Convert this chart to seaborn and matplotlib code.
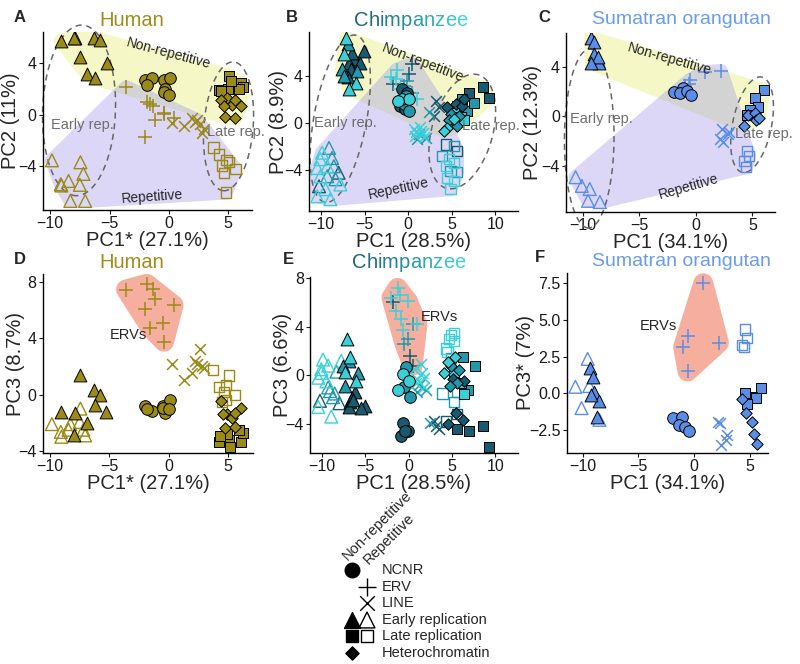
import numpy as np
import pandas as pd
import matplotlib
matplotlib.use("Agg")
import matplotlib.pyplot as plt
import seaborn as sns
from matplotlib.patches import Polygon
from matplotlib.ticker import FuncFormatter
from matplotlib.colors import to_rgb

# ----------------------------
# Values (PC1 / PC2 / PC3 per region class)
# ----------------------------

# Human
hum_ncnr_pc1 = [-2.0, -1.45, -1.85, -0.45, 0.1, -0.3, -0.45, 0.05]
hum_ncnr_pc2 = [2.7, 2.8, 2.3, 2.7, 2.8, 2.0, 1.75, 1.5]
hum_ncnr_pc3 = [-0.8, -1.15, -1.0, -0.8, -0.4, -1.3, -0.95, -1.05]
hum_erv_pc1 = [-3.6, -1.85, -1.35, -1.2, 0.4, -2.0, -0.45, -1.55, -0.4]
hum_erv_pc2 = [2.1, 0.95, 0.7, -0.45, -0.3, -1.75, 0.1, 0.85, 0.05]
hum_erv_pc3 = [7.45, 7.85, 7.5, 6.75, 6.35, 6.1, 5.1, 4.75, 3.75]
hum_line_pc1 = [0.3, 1.27, 1.97, 2.2, 2.4, 2.6, 2.82, 2.95]
hum_line_pc2 = [-0.65, -0.9, -0.3, -0.55, -0.45, -0.75, -1.45, -1.1]
hum_line_pc3 = [2.15, 1.0, 1.5, 2.4, 2.2, 3.2, 2.0, 1.85]
hum_early_nr_pc1 = [-9.1, -7.9, -6.3, -5.8, -7.45, -5.25, -6.9, -6.25, -7.95]
hum_early_nr_pc2 = [5.7, 5.95, 5.95, 5.8, 4.5, 4.0, 3.15, 2.8, 5.9]
hum_early_nr_pc3 = [-1.25, -1.3, 0.35, 0.0, 1.35, -1.25, -2.05, -0.75, -2.9]
hum_early_r_pc1 = [-9.85, -7.45, -8.45, -7.2, -7.5, -9.05, -8.3, -7.05, -9.1]
hum_early_r_pc2 = [-3.55, -3.7, -5.15, -4.6, -5.45, -5.5, -6.7, -6.7, -5.4]
hum_early_r_pc3 = [-2.1, -1.0, -2.5, -2.5, -1.95, -3.0, -2.1, -2.9, -2.65]
hum_late_nr_pc1 = [5.05, 6.1, 6.25, 4.25, 5.9, 4.95, 5.2, 4.35]
hum_late_nr_pc2 = [3.0, 2.45, 2.1, 1.9, 2.0, 1.95, 2.6, 1.85]
hum_late_nr_pc3 = [-3.25, -3.35, -2.75, -3.35, -2.55, -2.8, -3.75, -2.95]
hum_late_r_pc1 = [3.75, 4.25, 4.85, 4.5, 5.05, 5.6, 4.65, 4.8]
hum_late_r_pc2 = [-2.55, -3.1, -3.55, -3.95, -3.7, -4.2, -4.55, -6.05]
hum_late_r_pc3 = [1.75, 0.55, 0.65, -0.55, 1.35, -0.05, 0.2, -0.4]
hum_het_pc1 = [4.9, 5.3, 6.05, 4.4, 5.6, 4.75, 5.6, 4.6]
hum_het_pc2 = [1.25, 0.75, 0.65, 1.1, 1.1, -0.2, -0.3, 0.65]
hum_het_pc3 = [-1.4, -1.7, -0.95, -0.45, -1.3, -2.4, -2.3, -1.4]

# Chimpanzee (shade: 0 dark, 1 mid, 2 light)
chi_ncnr_pc1 = [-0.7, -0.15, -0.7, -0.5, 0.05, -0.9, -0.3, -1.2, -0.4, 0.1]
chi_ncnr_pc2 = [2.85, 2.5, 2.0, 1.55, 2.0, 1.4, 2.3, 1.8, 1.2, 1.0]
chi_ncnr_pc3 = [-3.9, -4.6, 0.1, -1.0, -0.5, -5.0, 0.7, -1.2, -4.6, -1.8]
chi_ncnr_shade = [0, 0, 2, 1, 2, 0, 1, 2, 0, 1]
chi_erv_pc1 = [-2.0, -1.45, 0.45, -0.1, -0.9, -0.1, 1.0, -0.7, 0.1, -0.5, -1.05, 0.45, -1.8, -1.3]
chi_erv_pc2 = [3.85, 3.7, 4.95, 3.55, 2.85, 2.7, 2.0, 2.15, 4.1, 3.1, 1.7, 2.55, 3.3, 4.5]
chi_erv_pc3 = [6.4, 5.3, 0.8, 3.0, 4.6, 6.1, 4.2, 3.7, 1.6, 2.6, 6.6, 4.2, 6.0, 7.2]
chi_erv_shade = [2, 2, 0, 1, 2, 2, 2, 2, 0, 1, 2, 1, 0, 2]
chi_line_pc1 = [0.6, 0.9, 1.2, 1.5, 1.8, 1.0, 1.4, 0.8, 1.7, 2.0, 3.15, 2.95, 3.5, 2.4]
chi_line_pc2 = [-0.5, -0.8, -1.0, -0.7, -1.2, -1.4, -0.4, -1.1, -0.9, -1.3, 1.85, 0.6, 1.3, 0.9]
chi_line_pc3 = [0.5, -0.3, -0.8, 0.2, -1.0, -1.4, 0.9, -0.6, -0.2, -1.2, -4.2, -3.8, -4.4, -3.9]
chi_line_shade = [2, 2, 1, 2, 2, 1, 2, 2, 2, 1, 0, 0, 0, 1]
chi_early_nr_pc1 = [-7.1, -6.9, -7.4, -5.1, -6.25, -6.8, -5.5, -7.6, -6.6, -5.85, -6.9, -6.05, -6.8, -7.4, -6.45]
chi_early_nr_pc2 = [7.2, 6.65, 5.8, 6.1, 5.4, 5.1, 5.1, 4.55, 4.55, 4.4, 3.85, 3.4, 2.9, 4.0, 5.95]
chi_early_nr_pc3 = [3.0, 1.2, 0.3, -2.5, -1.4, -2.2, -2.7, 0.8, -1.9, 0.2, -2.6, -0.5, 1.5, -0.9, -2.0]
chi_early_nr_shade = [2, 1, 2, 0, 0, 0, 0, 1, 0, 1, 0, 2, 2, 1, 0]
chi_early_r_pc1 = [-9.1, -9.9, -10.1, -8.75, -9.3, -10.45, -8.55, -8.0, -10.1, -9.3, -8.35, -10.25, -7.8, -9.5, -10.45, -8.95]
chi_early_r_pc2 = [-2.15, -2.55, -3.1, -3.0, -3.7, -3.85, -3.7, -4.25, -4.55, -4.55, -4.8, -5.4, -5.25, -5.65, -6.25, -6.5]
chi_early_r_pc3 = [-1.3, 1.3, 0.5, -1.8, 0.8, -0.2, -1.5, -2.3, 0.2, -1.0, 0.3, -2.1, 1.2, -0.5, -2.6, -3.4]
chi_early_r_shade = [1, 2, 2, 1, 2, 2, 1, 0, 2, 1, 1, 0, 2, 2, 2, 2]
chi_late_nr_pc1 = [7.0, 8.6, 9.25, 6.2, 5.25, 6.0, 6.8, 5.6, 7.6, 6.4]
chi_late_nr_pc2 = [2.55, 3.0, 2.1, 2.0, 0.85, 0.45, 1.0, 1.4, 1.7, 0.2]
chi_late_nr_pc3 = [-4.6, -4.2, -5.9, 1.5, 0.3, -0.6, -1.2, -4.4, 0.8, -1.5]
chi_late_nr_shade = [0, 0, 0, 1, 2, 2, 1, 0, 1, 2]
chi_late_r_pc1 = [4.3, 5.25, 5.6, 3.9, 4.65, 5.25, 4.3, 4.85, 5.6, 4.45, 5.25, 4.85]
chi_late_r_pc2 = [-1.85, -2.0, -2.4, -2.85, -3.1, -3.4, -3.7, -4.1, -4.2, -4.7, -4.95, -5.65]
chi_late_r_pc3 = [-3.8, -2.2, -3.2, -1.5, 3.0, 3.5, 2.2, 1.4, -1.4, 1.9, 2.8, 3.3]
chi_late_r_shade = [0, 1, 0, 1, 2, 2, 2, 1, 1, 2, 2, 2]
chi_het_pc1 = [4.5, 5.45, 6.2, 4.85, 5.8, 5.05, 4.5, 5.6, 4.1, 6.4, 5.3, 4.7]
chi_het_pc2 = [1.3, 1.55, 1.4, 0.7, 0.6, 0.0, -0.45, -0.3, -0.7, 2.0, 0.3, 0.2]
chi_het_pc3 = [-4.0, -3.1, -3.7, 0.8, 0.4, -0.3, 1.1, -0.6, 0.2, -0.5, 1.5, -0.9]
chi_het_shade = [0, 0, 0, 1, 1, 0, 2, 1, 2, 0, 2, 1]

# Sumatran orangutan
ora_ncnr_pc1 = [-1.9, -1.1, -1.4, -0.8, -0.45]
ora_ncnr_pc2 = [1.95, 2.25, 1.85, 2.05, 1.7]
ora_ncnr_pc3 = [-1.7, -1.6, -2.15, -2.3, -2.55]
ora_erv_pc1 = [0.8, -0.55, -1.0, 2.2, -0.6]
ora_erv_pc2 = [3.55, 2.9, 2.4, 3.65, 2.6]
ora_erv_pc3 = [7.5, 3.9, 3.15, 3.45, 1.5]
ora_line_pc1 = [2.1, 2.3, 2.95, 2.8, 2.4]
ora_line_pc2 = [-1.8, -1.0, -1.3, -1.45, -2.1]
ora_line_pc3 = [-1.95, -2.0, -2.85, -3.15, -3.5]
ora_early_nr_pc1 = [-9.3, -9.05, -9.0, -8.55, -8.7, -9.25]
ora_early_nr_pc2 = [6.3, 6.0, 5.05, 4.3, 4.8, 4.25]
ora_early_nr_pc3 = [1.7, 1.1, 0.1, -0.55, -1.6, -0.1]
ora_early_r_pc1 = [-10.65, -10.1, -9.55, -9.4, -8.5]
ora_early_r_pc2 = [-4.9, -5.6, -6.8, -5.85, -6.9]
ora_early_r_pc3 = [0.45, -1.0, 2.35, 0.5, -1.8]
ora_late_nr_pc1 = [6.0, 5.2, 5.5, 4.75, 4.5]
ora_late_nr_pc2 = [2.1, 1.45, 0.75, 0.5, 0.1]
ora_late_nr_pc3 = [0.4, -0.25, -0.3, -0.7, 0.0]
ora_late_r_pc1 = [4.55, 4.7, 4.3, 4.45]
ora_late_r_pc2 = [-2.8, -3.2, -3.6, -4.1]
ora_late_r_pc3 = [4.35, 3.75, 3.3, 3.15]
ora_het_pc1 = [4.3, 4.6, 5.2, 5.35, 5.6]
ora_het_pc2 = [-0.75, 0.1, 0.25, -0.3, -0.1]
ora_het_pc3 = [-0.4, -1.35, -1.95, -2.75, -3.45]

legend_labels = ["NCNR", "ERV", "LINE", "Early replication", "Late replication", "Heterochromatin"]

# ----------------------------
# Styles
# ----------------------------

W, H = 800, 664
MARKERS = {"ncnr": "o", "erv": "+", "line": "x", "early_nr": "^", "early_r": "^",
           "late_nr": "s", "late_r": "s", "het": "D"}
SIZES = {"o": 70, "+": 90, "x": 60, "^": 85, "s": 55, "D": 34}
FILLED = {"ncnr", "early_nr", "late_nr", "het"}
OPEN = {"early_r", "late_r"}
NONREP = ["ncnr", "early_nr", "late_nr", "het"]
REP = ["erv", "line", "early_r", "late_r"]
DRAW_ORDER = ["early_r", "late_r", "erv", "line", "ncnr", "early_nr", "late_nr", "het"]

PALETTES = {
    "human": ["#9A8A17"],
    "chimp": ["#185A70", "#2298AC", "#3BD0D8"],
    "orang": ["#5A8EE6"],
}
YELLOW, LAVENDER, GRAY, SALMON = "#F5F8C6", "#DCD7F7", "#D3D3D3", "#F6AE9F"


def region_df(region, pc1, pc2, pc3, shade=None):
    if shade is None:
        shade = [0] * len(pc1)
    return pd.DataFrame({"region": region, "pc1": pc1, "pc2": pc2, "pc3": pc3, "shade": shade})


human = pd.concat([
    region_df("ncnr", hum_ncnr_pc1, hum_ncnr_pc2, hum_ncnr_pc3),
    region_df("erv", hum_erv_pc1, hum_erv_pc2, hum_erv_pc3),
    region_df("line", hum_line_pc1, hum_line_pc2, hum_line_pc3),
    region_df("early_nr", hum_early_nr_pc1, hum_early_nr_pc2, hum_early_nr_pc3),
    region_df("early_r", hum_early_r_pc1, hum_early_r_pc2, hum_early_r_pc3),
    region_df("late_nr", hum_late_nr_pc1, hum_late_nr_pc2, hum_late_nr_pc3),
    region_df("late_r", hum_late_r_pc1, hum_late_r_pc2, hum_late_r_pc3),
    region_df("het", hum_het_pc1, hum_het_pc2, hum_het_pc3),
])
chimp = pd.concat([
    region_df("ncnr", chi_ncnr_pc1, chi_ncnr_pc2, chi_ncnr_pc3, chi_ncnr_shade),
    region_df("erv", chi_erv_pc1, chi_erv_pc2, chi_erv_pc3, chi_erv_shade),
    region_df("line", chi_line_pc1, chi_line_pc2, chi_line_pc3, chi_line_shade),
    region_df("early_nr", chi_early_nr_pc1, chi_early_nr_pc2, chi_early_nr_pc3, chi_early_nr_shade),
    region_df("early_r", chi_early_r_pc1, chi_early_r_pc2, chi_early_r_pc3, chi_early_r_shade),
    region_df("late_nr", chi_late_nr_pc1, chi_late_nr_pc2, chi_late_nr_pc3, chi_late_nr_shade),
    region_df("late_r", chi_late_r_pc1, chi_late_r_pc2, chi_late_r_pc3, chi_late_r_shade),
    region_df("het", chi_het_pc1, chi_het_pc2, chi_het_pc3, chi_het_shade),
])
orang = pd.concat([
    region_df("ncnr", ora_ncnr_pc1, ora_ncnr_pc2, ora_ncnr_pc3),
    region_df("erv", ora_erv_pc1, ora_erv_pc2, ora_erv_pc3),
    region_df("line", ora_line_pc1, ora_line_pc2, ora_line_pc3),
    region_df("early_nr", ora_early_nr_pc1, ora_early_nr_pc2, ora_early_nr_pc3),
    region_df("early_r", ora_early_r_pc1, ora_early_r_pc2, ora_early_r_pc3),
    region_df("late_nr", ora_late_nr_pc1, ora_late_nr_pc2, ora_late_nr_pc3),
    region_df("late_r", ora_late_r_pc1, ora_late_r_pc2, ora_late_r_pc3),
    region_df("het", ora_het_pc1, ora_het_pc2, ora_het_pc3),
])
SPECIES = {"human": human, "chimp": chimp, "orang": orang}


# ----------------------------
# Geometry helpers (hulls / enclosing ellipses, in pixel space)
# ----------------------------

def convex_hull(points):
    pts = sorted(set(map(tuple, np.round(points, 4))))
    if len(pts) < 3:
        return np.array(pts)

    def cross(o, a, b):
        return (a[0] - o[0]) * (b[1] - o[1]) - (a[1] - o[1]) * (b[0] - o[0])

    lower, upper = [], []
    for p in pts:
        while len(lower) >= 2 and cross(lower[-2], lower[-1], p) <= 0:
            lower.pop()
        lower.append(p)
    for p in reversed(pts):
        while len(upper) >= 2 and cross(upper[-2], upper[-1], p) <= 0:
            upper.pop()
        upper.append(p)
    return np.array(lower[:-1] + upper[:-1])


def hull_xy(ax, x, y, pad_px):
    disp = ax.transData.transform(np.column_stack([x, y]))
    ang = np.linspace(0, 2 * np.pi, 24, endpoint=False)
    ring = np.column_stack([np.cos(ang), np.sin(ang)]) * pad_px
    cloud = (disp[:, None, :] + ring[None, :, :]).reshape(-1, 2)
    return ax.transData.inverted().transform(convex_hull(cloud))


def mvee(P, tol=1e-5):
    n, d = P.shape
    Q = np.vstack([P.T, np.ones(n)])
    u = np.full(n, 1.0 / n)
    err = 1.0
    while err > tol:
        X = Q @ np.diag(u) @ Q.T
        M = np.einsum("ij,ji->i", Q.T @ np.linalg.inv(X), Q)
        j = np.argmax(M)
        step = (M[j] - d - 1) / ((d + 1) * (M[j] - 1))
        new_u = (1 - step) * u
        new_u[j] += step
        err = np.linalg.norm(new_u - u)
        u = new_u
    c = P.T @ u
    A = np.linalg.inv(P.T @ np.diag(u) @ P - np.outer(c, c)) / d
    return c, A


def ellipse_xy(ax, x, y, shrink=0.75, pad_px=14):
    P = ax.transData.transform(np.column_stack([x, y]))
    c, A = mvee(P)
    vals, vecs = np.linalg.eigh(A)
    semi = shrink / np.sqrt(vals) + pad_px
    t = np.linspace(0, 2 * np.pi, 200)
    circ = np.column_stack([np.cos(t) * semi[0], np.sin(t) * semi[1]])
    return ax.transData.inverted().transform(c + circ @ vecs.T)


# ----------------------------
# Drawing
# ----------------------------

def draw_points(ax, df, palette, ycol):
    for reg in DRAW_ORDER:
        for shade, sub in df[df.region == reg].groupby("shade"):
            col = palette[shade]
            m = MARKERS[reg]
            kw = dict(x=sub.pc1.values, y=sub[ycol].values, ax=ax, marker=m,
                      s=SIZES[m], legend=False, zorder=3)
            if reg in FILLED:
                sns.scatterplot(**kw, color=col, edgecolor="black", linewidth=0.7)
            elif reg in OPEN:
                sns.scatterplot(**kw, color=col, facecolor="none", edgecolor=col, linewidth=1.0)
            else:
                sns.scatterplot(**kw, color=col, linewidth=1.1)


def style_axes(ax, rect, xlim, ylim, xticks, yticks, xlabel, ylabel, ylab_x,
               decimals=False):
    l, t, r, b = rect
    ax.set_xlim(*xlim)
    ax.set_ylim(*ylim)
    ax.set_xticks(xticks)
    ax.set_yticks(yticks)
    if decimals:
        ax.yaxis.set_major_formatter(FuncFormatter(lambda v, p: f"{v:.1f}".replace("-", "\u2212")))
    ax.set_facecolor("none")
    for s in ["top", "right"]:
        ax.spines[s].set_visible(False)
    for s in ["left", "bottom"]:
        ax.spines[s].set_linewidth(1.0)
        ax.spines[s].set_color("black")
    ax.tick_params(length=3, width=0.8, pad=1.5, labelsize=11.5, colors="#1a1a1a")
    ax.set_xlabel(xlabel, fontsize=14.5)
    ax.set_ylabel(ylabel, fontsize=14.5)
    ax.yaxis.set_label_coords((ylab_x - l) / (r - l), 0.5)
    ax.xaxis.set_label_coords(0.5, -21 / (b - t))


def px_rect(l, t, r, b):
    return [l / W, 1 - b / H, (r - l) / W, (b - t) / H]


sns.set_theme(style="ticks")
plt.rcParams["font.family"] = ["Liberation Sans", "DejaVu Sans"]

fig = plt.figure(figsize=(W / 100, H / 100), dpi=100)
canvas = fig.add_axes([0, 0, 1, 1])
canvas.set_xlim(0, W)
canvas.set_ylim(H, 0)
canvas.axis("off")

top_panels = [
    ("human", (43, 32, 252, 210), (-10.6, 7.0), (-7.4, 6.4), [-10, -5, 0, 5],
     "PC1* (27.1%)", "PC2 (11%)", 20,
     [(0, 4.77, -15), (-1.4, -6.4, 4), (-7.3, -0.83), (5.65, -1.35)]),
    ("chimp", (309, 32, 518, 211), (-11.4, 12.6), (-7.5, 7.7), [-10, -5, 0, 5, 10],
     "PC1 (28.5%)", "PC2 (8.9%)", 288,
     [(1.7, 5.1, -21), (-1.05, -5.65, 12), (-7.2, 0.0), (9.45, -0.3)]),
    ("orang", (566, 33, 775, 212), (-11.5, 7.0), (-7.7, 6.7), [-10, -5, 0, 5],
     "PC1 (34.1%)", "PC2 (12.3%)", 542,
     [(-2.3, 4.6, -16), (-0.65, -5.7, 16), (-8.4, -0.2), (6.05, -1.4)]),
]

for sp, rect, xlim, ylim, xticks, xlabel, ylabel, ylab_x, labels in top_panels:
    ax = fig.add_axes(px_rect(*rect))
    style_axes(ax, rect, xlim, ylim, xticks, [-4, 0, 4], xlabel, ylabel, ylab_x)
    df = SPECIES[sp]
    nr = df[df.region.isin(NONREP)]
    rp = df[df.region.isin(REP)]
    yel = Polygon(hull_xy(ax, nr.pc1, nr.pc2, 7), fc=YELLOW, ec="none", zorder=1)
    lav = Polygon(hull_xy(ax, rp.pc1, rp.pc2, 7), fc=LAVENDER, ec="none", zorder=1)
    ax.add_patch(yel)
    ax.add_patch(lav)
    overlap = Polygon(yel.get_xy(), fc=GRAY, ec="none", zorder=1.2)
    ax.add_patch(overlap)
    overlap.set_clip_path(lav)

    early = df[df.region.isin(["early_nr", "early_r"])]
    late = df[df.region.isin(["late_nr", "late_r", "het"])]
    for grp in (early, late):
        e = ellipse_xy(ax, grp.pc1, grp.pc2)
        ax.plot(e[:, 0], e[:, 1], color="#666666", lw=1.1, ls=(0, (4, 3)),
                clip_on=False, zorder=2)

    draw_points(ax, df, PALETTES[sp], "pc2")

    (nx, ny, nrot), (rx, ry, rrot), (ex, ey), (lx, ly) = labels
    ax.text(nx, ny, "Non-repetitive", rotation=nrot, fontsize=10, ha="center",
            va="center", rotation_mode="anchor", zorder=4)
    ax.text(rx, ry, "Repetitive", rotation=rrot, fontsize=10, ha="center",
            va="center", rotation_mode="anchor", zorder=4)
    ax.text(ex, ey, "Early rep.", color="#6e6e6e", fontsize=10.5, ha="center",
            va="center", zorder=4)
    ax.text(lx, ly, "Late rep.", color="#6e6e6e", fontsize=10.5, ha="center",
            va="center", zorder=4)

bottom_panels = [
    ("human", (43, 274, 253, 453), (-10.6, 7.1), (-4.15, 8.55), [-10, -5, 0, 5],
     [-4, 0, 4, 8], "PC1* (27.1%)", "PC3 (8.7%)", 25, (-3.4, 4.2), False),
    ("chimp", (310, 277, 518, 453), (-11.4, 12.6), (-6.4, 8.1), [-10, -5, 0, 5, 10],
     [-4, 0, 4, 8], "PC1 (28.5%)", "PC3 (6.6%)", 292, (3.5, 4.8), False),
    ("orang", (567, 273, 768, 453), (-11.4, 6.6), (-4.06, 8.2), [-10, -5, 0, 5],
     [-2.5, 0, 2.5, 5, 7.5], "PC1 (34.1%)", "PC3* (7%)", 535, (-3.2, 4.6), True),
]

for sp, rect, xlim, ylim, xticks, yticks, xlabel, ylabel, ylab_x, erv_lab, dec in bottom_panels:
    ax = fig.add_axes(px_rect(*rect))
    style_axes(ax, rect, xlim, ylim, xticks, yticks, xlabel, ylabel, ylab_x, decimals=dec)
    df = SPECIES[sp]
    erv = df[df.region == "erv"]
    ax.add_patch(Polygon(hull_xy(ax, erv.pc1, erv.pc3, 10), fc=SALMON, ec="none", zorder=1))
    draw_points(ax, df, PALETTES[sp], "pc3")
    ax.text(erv_lab[0], erv_lab[1], "ERVs", fontsize=10.5, ha="center", va="center", zorder=4)

# ----------------------------
# Panel letters and species titles
# ----------------------------

for letter, (x, y) in zip("ABCDEF", [(20, 17), (292, 17), (544, 17),
                                     (20, 259), (288, 259), (540, 258)]):
    canvas.text(x, y, letter, fontsize=12, fontweight="bold", ha="center", va="center")

for y in (20, 262):
    canvas.text(132, y, "Human", color="#A08D1B", fontsize=14.5, ha="center", va="center")
    canvas.text(681, y, "Sumatran orangutan", color="#6B9CEA", fontsize=14, ha="center",
                va="center")

c0, c1 = np.array(to_rgb("#1C6478")), np.array(to_rgb("#3ED4DA"))
word = "Chimpanzee"
for x0, y in ((354, 20), (352, 262)):
    t = None
    for i, ch in enumerate(word):
        col = c0 + (c1 - c0) * (i / (len(word) - 1)) ** 1.2
        if t is None:
            t = canvas.text(x0, y, ch, color=col, fontsize=14.5, ha="left", va="center")
        else:
            t = canvas.annotate(ch, xy=(1, 0), xycoords=t, color=col, fontsize=14.5,
                                ha="left", va="bottom")

# ----------------------------
# Shape legend
# ----------------------------

canvas.text(348, 561, "Non-repetitive", rotation=45, fontsize=10.5, ha="left",
            va="baseline", rotation_mode="anchor")
canvas.text(369, 565, "Repetitive", rotation=45, fontsize=10.5, ha="left",
            va="baseline", rotation_mode="anchor")

rows_y = [570, 587, 603, 620, 636, 653]
filled_col, open_col, text_col = 352, 367, 382
legend_filled = {0: ("o", 110), 3: ("^", 130), 4: ("s", 80), 5: ("D", 45)}
legend_open = {1: ("+", 170, False), 2: ("x", 110, False), 3: ("^", 130, True),
               4: ("s", 80, True)}
for i, lab in enumerate(legend_labels):
    y = rows_y[i]
    if i in legend_filled:
        m, s = legend_filled[i]
        canvas.scatter([filled_col], [y], marker=m, s=s, color="black", clip_on=False)
    if i in legend_open:
        m, s, hollow = legend_open[i]
        if hollow:
            canvas.scatter([open_col], [y], marker=m, s=s, facecolor="none",
                           edgecolor="black", linewidth=1.0, clip_on=False)
        else:
            canvas.scatter([open_col], [y], marker=m, s=s, color="black",
                           linewidth=1.0, clip_on=False)
    canvas.text(text_col, y, lab, fontsize=10.5, ha="left", va="center")

fig.savefig("out.png", dpi=100)
